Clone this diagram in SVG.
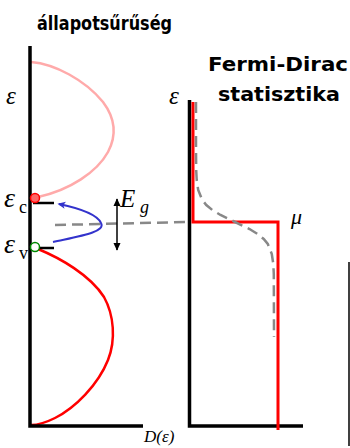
<svg xmlns="http://www.w3.org/2000/svg" width="350" height="448" viewBox="0 0 350 448">
<defs>
<style>
.title{font-family:"DejaVu Sans","Noto Sans",sans-serif;font-weight:bold;fill:#000}
.math{font-family:"Liberation Serif","DejaVu Serif",serif;font-style:italic;fill:#000}
.sub{font-family:"Liberation Serif","DejaVu Serif",serif;fill:#000}
.axis{stroke:#000;stroke-width:3.5;fill:none}
.dash{stroke:#888;stroke-width:2.5;fill:none;stroke-dasharray:11 6}
.red{stroke:#f00;stroke-width:3;fill:none}
</style>
<marker id="ah" viewBox="0 0 10 10" refX="9" refY="5" markerWidth="8" markerHeight="8" orient="auto-start-reverse" markerUnits="userSpaceOnUse">
<path d="M0,0.5 L10,5 L0,9.5 z" fill="#000"/>
</marker>
<marker id="bh" viewBox="0 0 10 10" refX="8" refY="5" markerWidth="8" markerHeight="8" orient="auto" markerUnits="userSpaceOnUse">
<path d="M0,0.5 L10,5 L0,9.5 L2.5,5 z" fill="#3333cc"/>
</marker>
</defs>
<rect width="350" height="448" fill="#fff"/>

<g id="dos">
<path d="M31,62 C55,64 85,80 103,102 C115,118 117,135 108,152 C97,172 70,190 38,197" stroke="#ffaaaa" stroke-width="2.5" fill="none"/>
<path d="M38,249 C60,258 90,275 104,297 C114,315 116,340 108,360 C98,385 75,408 55,418 C45,423 35,425 31,425" stroke="#f00" stroke-width="2.5" fill="none"/>
<path class="axis" d="M30,46 V426 H143"/>
<line x1="33" y1="203" x2="54" y2="203" stroke="#000" stroke-width="2.5"/>
<line x1="33" y1="248" x2="54" y2="248" stroke="#000" stroke-width="2.5"/>
<circle cx="35" cy="198" r="4.5" fill="#ff6666" stroke="#f00" stroke-width="1.5"/>
<circle cx="35" cy="247" r="4.5" fill="#fff" stroke="#080" stroke-width="1.5"/>
</g>

<g id="fermi">
<path class="axis" d="M189.5,100 V426 H303"/>
<path class="red" d="M193,102 V222 H278 V430"/>
<path class="dash" d="M196,102 L196,150 L196.2,170 L196.7,180 L198.2,190 L202.2,200 L206.3,205 L212.3,210 L220.5,215 L235,222 L249.5,229 L257.7,234 L263.7,239 L267.8,244 L271.8,254 L273.3,264 L273.8,274 L274,337"/>
</g>

<g id="connectors">
<path class="dash" d="M55,225 L190,222" stroke-dasharray="13 6"/>
<path d="M53,242 C80,236 106,232 101,223 C97,214 78,208 59,204" stroke="#3333cc" stroke-width="2" fill="none" marker-end="url(#bh)"/>
<line x1="117" y1="199" x2="117" y2="250" stroke="#000" stroke-width="1.5" marker-start="url(#ah)" marker-end="url(#ah)"/>
</g>

<g id="labels">
<text class="title" x="37" y="30" font-size="19" textLength="135" lengthAdjust="spacingAndGlyphs">állapotsűrűség</text>
<text class="title" x="208" y="71" font-size="19" textLength="140" lengthAdjust="spacingAndGlyphs">Fermi-Dirac</text>
<text class="title" x="218" y="101" font-size="19" textLength="122" lengthAdjust="spacingAndGlyphs">statisztika</text>
<text class="math" x="6" y="104" font-size="25">ε</text>
<text class="math" x="169" y="104" font-size="25">ε</text>
<text class="math" x="4" y="207" font-size="28">ε</text>
<text class="sub" x="19" y="213" font-size="18">c</text>
<text class="math" x="4" y="253" font-size="28">ε</text>
<text class="sub" x="19" y="259" font-size="18">v</text>
<text class="math" x="120" y="207" font-size="25">E</text>
<text class="math" x="140" y="213" font-size="18">g</text>
<text class="math" x="291" y="224" font-size="22">μ</text>
<text class="math" x="144" y="442" font-size="17">D(ε)</text>
</g>

<line x1="349" y1="262" x2="349" y2="446" stroke="#000" stroke-width="1.5"/>
</svg>
